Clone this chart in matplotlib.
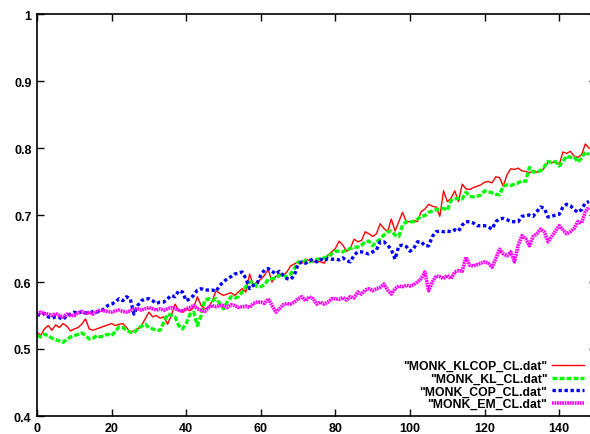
import numpy as np
import matplotlib
matplotlib.use("Agg")
import matplotlib.pyplot as plt

# accuracy curves, one value per x step (0..148)
klcop = [0.525, 0.52, 0.53, 0.535, 0.528, 0.536, 0.532, 0.538, 0.534, 0.527,
         0.53, 0.532, 0.537, 0.545, 0.53, 0.528, 0.53, 0.532, 0.534, 0.536,
         0.538, 0.535, 0.537, 0.538, 0.532, 0.525, 0.527, 0.53, 0.535, 0.545,
         0.555, 0.548, 0.55, 0.546, 0.548, 0.537, 0.55, 0.567, 0.558, 0.555,
         0.56, 0.557, 0.562, 0.578, 0.565, 0.56, 0.562, 0.572, 0.587, 0.583,
         0.58, 0.582, 0.584, 0.58, 0.585, 0.59, 0.585, 0.612, 0.595, 0.6,
         0.604, 0.61, 0.619, 0.6, 0.608, 0.612, 0.61, 0.615, 0.624, 0.627,
         0.63, 0.628, 0.634, 0.632, 0.63, 0.631, 0.63, 0.628, 0.64, 0.645,
         0.65, 0.661, 0.655, 0.646, 0.65, 0.664, 0.66, 0.662, 0.675, 0.672,
         0.668, 0.672, 0.687, 0.68, 0.675, 0.694, 0.676, 0.69, 0.704, 0.69,
         0.69, 0.692, 0.69, 0.705, 0.709, 0.716, 0.713, 0.712, 0.698, 0.736,
         0.72, 0.725, 0.736, 0.72, 0.746, 0.739, 0.738, 0.741, 0.743, 0.745,
         0.749, 0.75, 0.748, 0.757, 0.756, 0.743, 0.76, 0.769, 0.768, 0.77,
         0.766, 0.765, 0.763, 0.766, 0.764, 0.765, 0.77, 0.779, 0.778, 0.78,
         0.775, 0.794, 0.792, 0.795, 0.788, 0.786, 0.79, 0.806, 0.8]

kl = [0.52, 0.518, 0.522, 0.52, 0.516, 0.514, 0.512, 0.51, 0.514, 0.518,
      0.52, 0.522, 0.524, 0.52, 0.515, 0.516, 0.52, 0.518, 0.52, 0.522,
      0.52, 0.526, 0.533, 0.532, 0.528, 0.525, 0.524, 0.53, 0.534, 0.537,
      0.532, 0.53, 0.528, 0.528, 0.54, 0.552, 0.55, 0.548, 0.535, 0.53,
      0.538, 0.552, 0.555, 0.535, 0.55, 0.573, 0.575, 0.572, 0.575, 0.568,
      0.56, 0.57, 0.578, 0.576, 0.578, 0.585, 0.593, 0.6, 0.6, 0.593,
      0.593, 0.596, 0.604, 0.605, 0.606, 0.61, 0.61, 0.608, 0.612, 0.62,
      0.63, 0.628, 0.632, 0.63, 0.632, 0.634, 0.634, 0.636, 0.638, 0.642,
      0.646, 0.646, 0.645, 0.648, 0.65, 0.652, 0.652, 0.655, 0.66, 0.661,
      0.654, 0.66, 0.664, 0.67, 0.675, 0.676, 0.67, 0.668, 0.685, 0.69,
      0.69, 0.69, 0.694, 0.698, 0.699, 0.704, 0.706, 0.708, 0.709, 0.71,
      0.707, 0.722, 0.724, 0.725, 0.724, 0.734, 0.728, 0.727, 0.728, 0.73,
      0.736, 0.735, 0.733, 0.731, 0.73, 0.743, 0.745, 0.744, 0.746, 0.748,
      0.751, 0.75, 0.771, 0.764, 0.765, 0.766, 0.772, 0.78, 0.778, 0.78,
      0.773, 0.78, 0.788, 0.786, 0.787, 0.779, 0.785, 0.794, 0.79]

cop = [0.552, 0.55, 0.553, 0.548, 0.546, 0.548, 0.547, 0.544, 0.55, 0.552,
       0.555, 0.553, 0.556, 0.554, 0.553, 0.556, 0.555, 0.557, 0.56, 0.565,
       0.567, 0.57, 0.575, 0.572, 0.578, 0.575, 0.552, 0.565, 0.572, 0.575,
       0.575, 0.572, 0.568, 0.57, 0.57, 0.575, 0.58, 0.578, 0.587, 0.585,
       0.572, 0.575, 0.58, 0.588, 0.59, 0.588, 0.588, 0.588, 0.586, 0.595,
       0.6, 0.605, 0.608, 0.612, 0.613, 0.615, 0.605, 0.59, 0.595, 0.598,
       0.61, 0.618, 0.62, 0.616, 0.612, 0.616, 0.61, 0.605, 0.604, 0.61,
       0.627, 0.63, 0.628, 0.632, 0.634, 0.63, 0.634, 0.632, 0.635, 0.634,
       0.634, 0.633, 0.636, 0.632, 0.63, 0.64, 0.645, 0.645, 0.643, 0.642,
       0.645, 0.648, 0.66, 0.66, 0.655, 0.648, 0.634, 0.654, 0.655, 0.653,
       0.646, 0.65, 0.66, 0.66, 0.654, 0.654, 0.668, 0.675, 0.676, 0.675,
       0.676, 0.675, 0.678, 0.676, 0.685, 0.69, 0.69, 0.688, 0.684, 0.684,
       0.684, 0.682, 0.679, 0.69, 0.694, 0.695, 0.693, 0.69, 0.69, 0.69,
       0.698, 0.699, 0.7, 0.698, 0.705, 0.712, 0.71, 0.697, 0.698, 0.7,
       0.701, 0.712, 0.716, 0.714, 0.708, 0.704, 0.708, 0.718, 0.72]

em = [0.552, 0.555, 0.553, 0.552, 0.55, 0.553, 0.55, 0.548, 0.552, 0.55,
      0.55, 0.554, 0.556, 0.553, 0.555, 0.552, 0.556, 0.558, 0.557, 0.556,
      0.555, 0.557, 0.558, 0.556, 0.555, 0.557, 0.56, 0.56, 0.558, 0.56,
      0.562, 0.56, 0.558, 0.56, 0.558, 0.56, 0.562, 0.56, 0.558, 0.556,
      0.56, 0.562, 0.565, 0.56, 0.558, 0.556, 0.562, 0.565, 0.563, 0.565,
      0.565, 0.562, 0.566, 0.565, 0.562, 0.563, 0.564, 0.562, 0.568, 0.57,
      0.57, 0.568, 0.575, 0.565, 0.555, 0.56, 0.566, 0.568, 0.567, 0.57,
      0.575, 0.578, 0.572, 0.578, 0.575, 0.567, 0.57, 0.567, 0.57, 0.575,
      0.575, 0.574, 0.577, 0.573, 0.578, 0.576, 0.585, 0.582, 0.588, 0.59,
      0.587, 0.59, 0.592, 0.597, 0.588, 0.582, 0.59, 0.594, 0.593, 0.595,
      0.594, 0.596, 0.6, 0.605, 0.615, 0.587, 0.6, 0.609, 0.608, 0.605,
      0.61, 0.605, 0.615, 0.617, 0.616, 0.637, 0.625, 0.624, 0.626, 0.628,
      0.63, 0.628, 0.622, 0.635, 0.649, 0.642, 0.639, 0.645, 0.63, 0.655,
      0.669, 0.665, 0.654, 0.668, 0.672, 0.679, 0.675, 0.66, 0.668, 0.676,
      0.684, 0.678, 0.672, 0.675, 0.68, 0.69, 0.688, 0.705, 0.712]

labels = ['"MONK_KLCOP_CL.dat"', '"MONK_KL_CL.dat"',
          '"MONK_COP_CL.dat"', '"MONK_EM_CL.dat"']
xticks = [0, 20, 40, 60, 80, 100, 120, 140]
yticks = [0.4, 0.5, 0.6, 0.7, 0.8, 0.9, 1.0]
yticklabels = ['0.4', '0.5', '0.6', '0.7', '0.8', '0.9', '1']

x = np.arange(len(klcop))

plt.rcParams['font.family'] = ['Liberation Sans', 'DejaVu Sans']
plt.rcParams['font.weight'] = 'bold'

fig = plt.figure(figsize=(5.9, 4.35), dpi=100)
# right border of the original frame falls just past the image edge
ax = fig.add_axes([37 / 590, 18 / 435, 559.5 / 590, 402 / 435])

ax.plot(x, klcop, color='#ff0000', lw=1.0, label=labels[0])
ax.plot(x, kl, color='#00ff00', lw=2.4, dashes=(1.5, 0.6), label=labels[1])
ax.plot(x, cop, color='#0000ff', lw=2.4, dashes=(1.0, 0.8), label=labels[2])
ax.plot(x, em, color='#ff00ff', lw=2.6, dashes=(0.5, 0.2), label=labels[3])

ax.set_xlim(0, 150)
ax.set_ylim(0.4, 1.0)
ax.set_xticks(xticks)
ax.set_yticks(yticks)
ax.set_yticklabels(yticklabels)
ax.tick_params(direction='in', length=5, width=1, top=True, right=True,
               labelsize=9, pad=4)
for s in ax.spines.values():
    s.set_linewidth(1.2)
for lbl in ax.get_xticklabels() + ax.get_yticklabels():
    lbl.set_fontweight('bold')

leg = ax.legend(loc='lower right', frameon=False, markerfirst=False,
                handlelength=2.6, handletextpad=0.4, labelspacing=0.05,
                borderpad=0.0, borderaxespad=0.0,
                prop={'family': 'Liberation Sans', 'size': 8.8, 'weight': 'bold'})
leg.set_bbox_to_anchor((584 / 590, 24 / 435), transform=fig.transFigure)
for t in leg.get_texts():
    t.set_ha('right')

fig.savefig('out.png', dpi=100)
